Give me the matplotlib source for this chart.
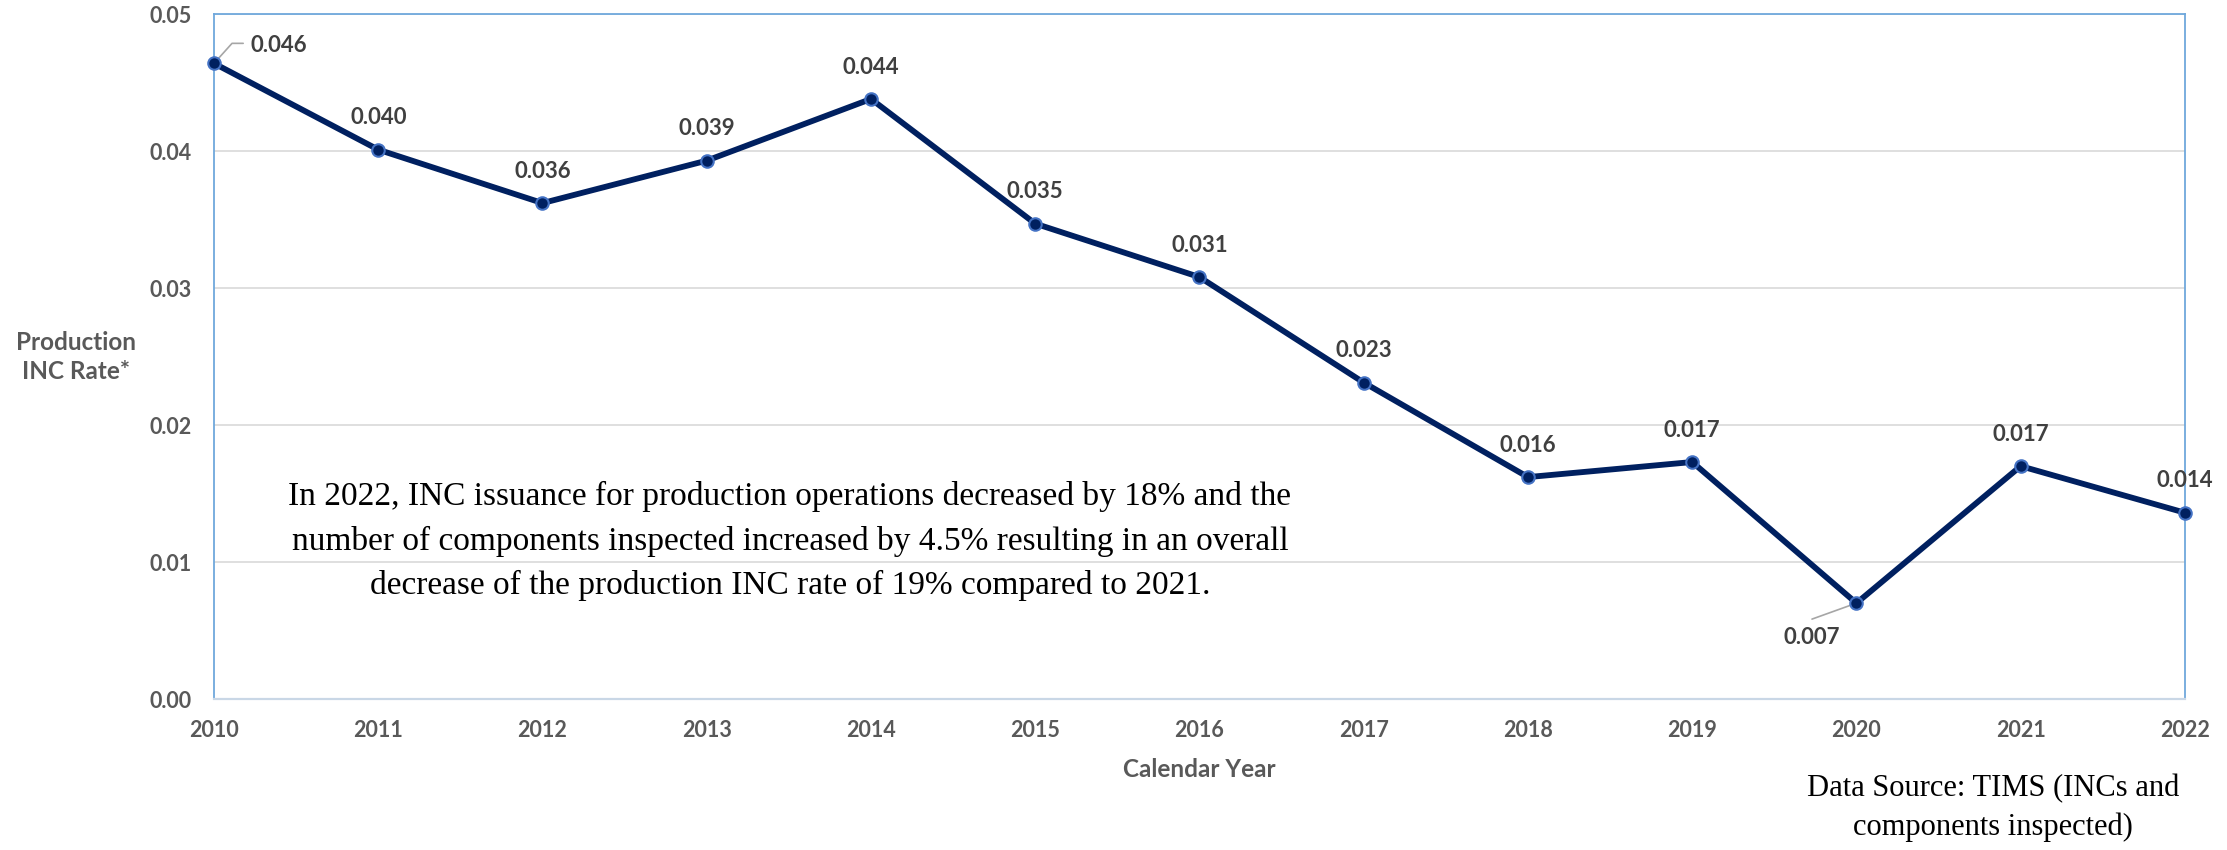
import matplotlib
matplotlib.use("Agg")
import matplotlib.pyplot as plt

# data
years = [2010, 2011, 2012, 2013, 2014, 2015, 2016, 2017, 2018, 2019, 2020, 2021, 2022]
inc_rate = [0.0464, 0.0401, 0.0362, 0.0393, 0.0438, 0.0347, 0.0308,
            0.0231, 0.0162, 0.0173, 0.0070, 0.0170, 0.0136]
y_ticks = [0.00, 0.01, 0.02, 0.03, 0.04, 0.05]

note = ("In 2022, INC issuance for production operations decreased by 18% and the\n"
        "number of components inspected increased by 4.5% resulting in an overall\n"
        "decrease of the production INC rate of 19% compared to 2021.")
source = "Data Source: TIMS (INCs and\ncomponents inspected)"

navy = "#002060"
tick_grey = "#595959"
lab_grey = "#404040"
sans = ["Lato", "DejaVu Sans"]
serif = ["Liberation Serif", "DejaVu Serif"]

fig = plt.figure(figsize=(22.27, 8.5), dpi=100)
ax = fig.add_axes([0.0961, 0.1776, 0.9811 - 0.0961, 0.9835 - 0.1776])

ax.plot(years, inc_rate, color=navy, lw=4.2, marker="o", ms=9,
        mfc=navy, mec="#4472C4", mew=1.5, clip_on=False, zorder=5)

ax.set_xlim(2010, 2022)
ax.set_ylim(0, 0.05)
ax.set_xticks(years)
ax.set_xticklabels([str(y) for y in years])
ax.set_yticks(y_ticks)
ax.set_yticklabels([f"{t:.2f}" for t in y_ticks])
ax.tick_params(axis="both", length=0, labelsize=15.5, labelcolor=tick_grey)
ax.tick_params(axis="x", pad=15)
ax.tick_params(axis="y", pad=16)
for lbl in ax.get_xticklabels() + ax.get_yticklabels():
    lbl.set_family(sans)
    lbl.set_fontweight("bold")

ax.grid(axis="y", color="#D9D9D9", lw=1.2)
ax.set_axisbelow(True)
for side in ["left", "top", "right"]:
    ax.spines[side].set_color("#6FA8DC")
    ax.spines[side].set_linewidth(1.3)
ax.spines["bottom"].set_color("#C9D7E6")
ax.spines["bottom"].set_linewidth(1.6)

# data labels
for x, v in zip(years, inc_rate):
    txt = f"{v:.3f}"
    if x == 2010:
        ax.annotate(txt, (x, v), xytext=(26.5, 13), textcoords="offset points",
                    ha="left", va="center", fontsize=16, fontweight="bold",
                    color=lab_grey, family=sans)
        ax.annotate("", (x, v), xytext=(21, 14.4), textcoords="offset points",
                    arrowprops=dict(arrowstyle="-", color="#A6A6A6", lw=1.2,
                                    connectionstyle="angle,angleA=0,angleB=48,rad=0",
                                    shrinkA=0, shrinkB=2))
    elif x == 2020:
        ax.annotate(txt, (x, v), xytext=(-32, -25), textcoords="offset points",
                    ha="center", va="center", fontsize=16, fontweight="bold",
                    color=lab_grey, family=sans)
        ax.annotate("", (x, v), xytext=(-32, -11.5), textcoords="offset points",
                    arrowprops=dict(arrowstyle="-", color="#A6A6A6", lw=1.2,
                                    shrinkA=0, shrinkB=2))
    else:
        ax.annotate(txt, (x, v), xytext=(0, 23), textcoords="offset points",
                    ha="center", va="center", fontsize=16, fontweight="bold",
                    color=lab_grey, family=sans)

ax.set_xlabel("Calendar Year", fontsize=17.5, fontweight="bold", color=tick_grey,
              family=sans, labelpad=12)

fig.text(76 / 2227, 1 - 357 / 850, "Production\nINC Rate*", ha="center", va="center",
         fontsize=17.5, fontweight="bold", color=tick_grey, family=sans, linespacing=1.3)

ax.text(0.2922, 0.2307, note, transform=ax.transAxes, ha="center", va="center",
        multialignment="center", fontsize=24, family=serif, color="black",
        linespacing=1.55)

fig.text(1993 / 2227, 1 - 808 / 850, source, ha="center", va="center",
         multialignment="center", fontsize=22, family=serif, color="black",
         linespacing=1.4)

fig.savefig("out.png", dpi=100)
